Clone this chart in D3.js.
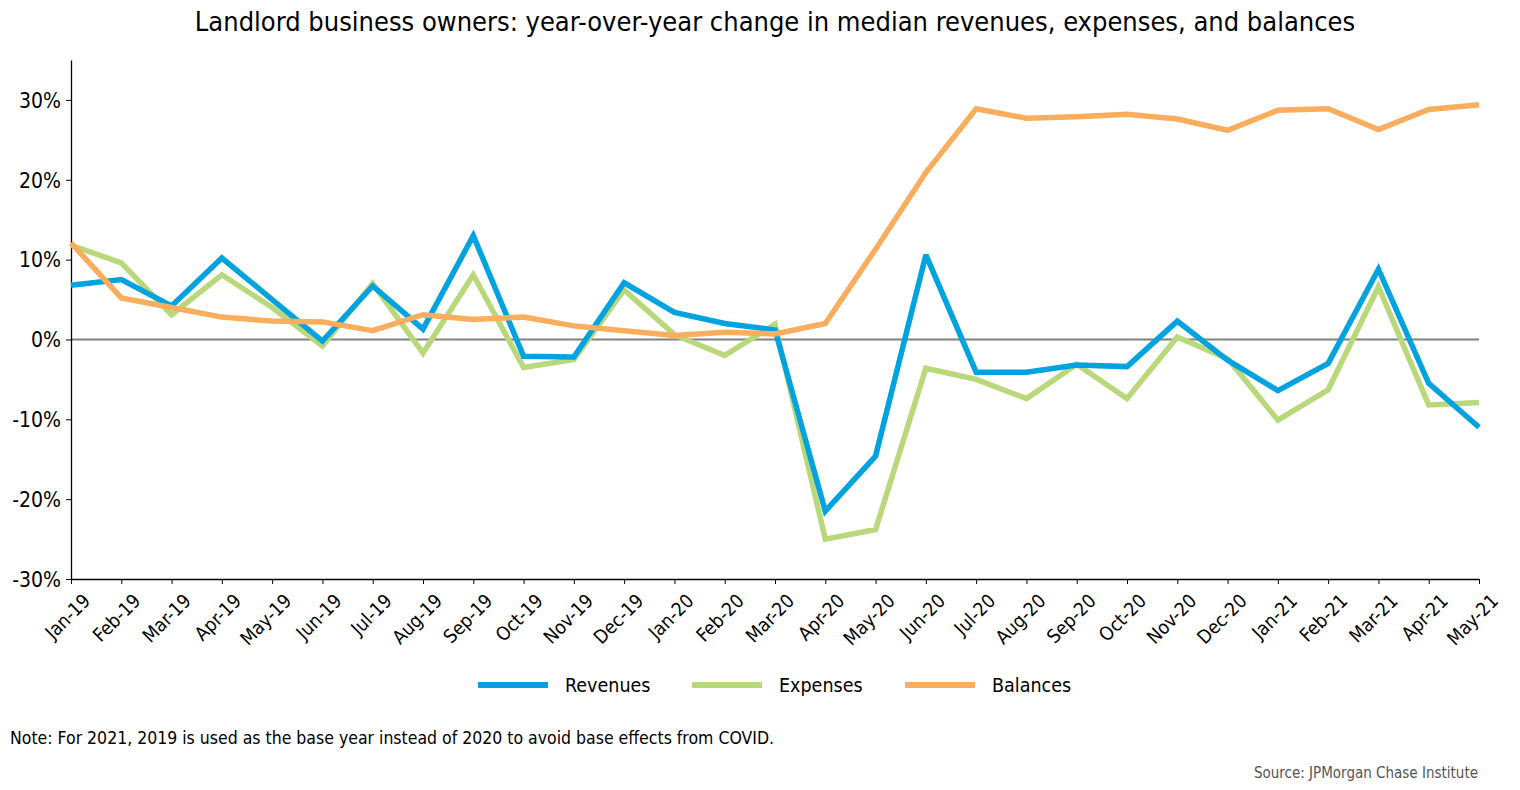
<!DOCTYPE html>
<html><head><meta charset="utf-8">
<script src="https://cdn.jsdelivr.net/npm/d3@7"></script>
<style>
html,body{margin:0;padding:0;background:#fff;}
svg text{font-family:"Liberation Sans Narrow","DejaVu Sans Condensed","Roboto",sans-serif;}
</style></head>
<body><svg id="c" width="1520" height="790"></svg>
<script>
const months = ["Jan-19","Feb-19","Mar-19","Apr-19","May-19","Jun-19","Jul-19","Aug-19","Sep-19","Oct-19","Nov-19","Dec-19",
"Jan-20","Feb-20","Mar-20","Apr-20","May-20","Jun-20","Jul-20","Aug-20","Sep-20","Oct-20","Nov-20","Dec-20",
"Jan-21","Feb-21","Mar-21","Apr-21","May-21"];
const revenues = [6.8,7.5,4.2,10.2,5.0,-0.2,6.7,1.3,13.0,-2.1,-2.2,7.1,3.4,2.0,1.2,-21.5,-14.6,10.6,-4.1,-4.1,-3.2,-3.4,2.3,-2.6,-6.4,-3.0,8.8,-5.5,-11.0];
const expenses = [11.8,9.6,3.1,8.1,4.0,-0.8,7.0,-1.7,8.1,-3.5,-2.5,6.2,0.6,-2.0,1.9,-25.0,-23.8,-3.6,-5.0,-7.4,-3.1,-7.4,0.3,-2.4,-10.1,-6.3,6.6,-8.2,-7.9];
const balances = [12.1,5.2,4.0,2.8,2.3,2.2,1.1,3.1,2.5,2.8,1.7,1.1,0.5,0.9,0.7,2.0,11.3,20.9,28.9,27.7,27.9,28.2,27.6,26.2,28.7,28.9,26.3,28.8,29.4];
const yTicks = [-30,-20,-10,0,10,20,30];
const seriesNames = ["Revenues","Expenses","Balances"];
const seriesColors = ["#00A3E0","#B9D87A","#FBAD5E"];

const svg = d3.select("#c");
const x = d3.scalePoint().domain(months).range([71,1479]);
const y = d3.scaleLinear().domain([-30,35]).range([579,60]);

svg.append("text").attr("x",775).attr("y",31).attr("text-anchor","middle")
  .attr("font-size",27).attr("fill","#000").text("Landlord business owners: year-over-year change in median revenues, expenses, and balances");

// zero line
svg.append("line").attr("x1",71).attr("x2",1479).attr("y1",y(0)).attr("y2",y(0))
  .attr("stroke","#808080").attr("stroke-width",2);

const yAxis = svg.append("g").attr("transform","translate(71,0)")
  .call(d3.axisLeft(y).tickValues(yTicks).tickSize(5).tickSizeOuter(0).tickFormat(d=>d+"%"));
yAxis.select(".domain").attr("stroke","#000").attr("stroke-width",1.3);
yAxis.selectAll(".tick line").attr("stroke","#000");
yAxis.selectAll("text").attr("font-size",21).attr("fill","#000").attr("dx",-2).attr("dy","0.35em");

const xAxis = svg.append("g").attr("transform",`translate(0,${y(-30)})`)
  .call(d3.axisBottom(x).tickSize(5).tickSizeOuter(0));
xAxis.select(".domain").attr("stroke","#000").attr("stroke-width",1.3);
xAxis.selectAll(".tick line").attr("stroke","#000");
xAxis.selectAll("text").attr("font-size",19).attr("fill","#000")
  .attr("text-anchor","end").attr("dy",0).attr("y",0)
  .attr("transform","translate(20,23) rotate(-45)");

const line = d3.line().x((d,i)=>x(months[i])).y(d=>y(d));
const order = [1,0,2];
const data = [revenues,expenses,balances];
order.forEach(k=>{
  svg.append("path").datum(data[k]).attr("d",line).attr("fill","none")
    .attr("stroke",seriesColors[k]).attr("stroke-width",5.5).attr("stroke-linejoin","miter").attr("stroke-miterlimit",3);
});

// legend
const legX = [478,692,905];
seriesNames.forEach((n,i)=>{
  svg.append("line").attr("x1",legX[i]).attr("x2",legX[i]+70).attr("y1",685).attr("y2",685)
    .attr("stroke",seriesColors[i]).attr("stroke-width",6);
  svg.append("text").attr("x",legX[i]+87).attr("y",692).attr("font-size",19.5).attr("fill","#000").text(n);
});

svg.append("text").attr("x",10).attr("y",744).attr("font-size",17.5).attr("fill","#000")
  .text("Note: For 2021, 2019 is used as the base year instead of 2020 to avoid base effects from COVID.");
svg.append("text").attr("x",1478).attr("y",778).attr("text-anchor","end").attr("font-size",15).attr("fill","#555")
  .text("Source: JPMorgan Chase Institute");
</script></body></html>
